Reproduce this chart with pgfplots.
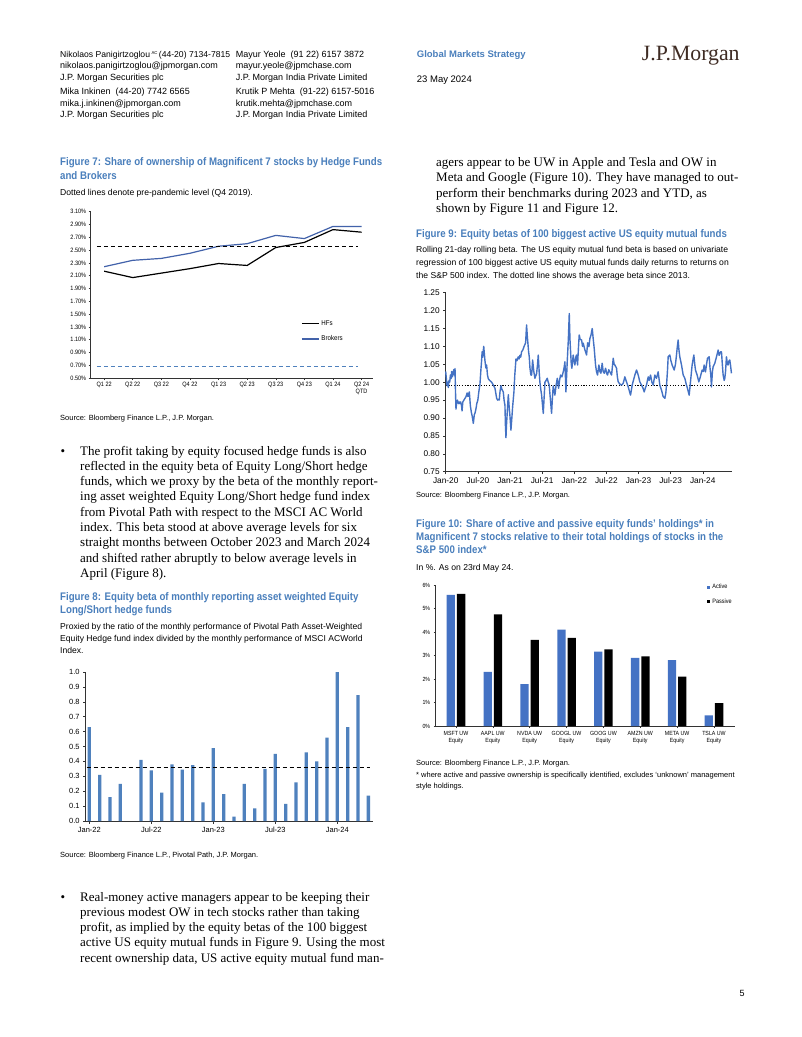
\documentclass[border=0pt]{standalone}
\usepackage{fontspec}
\setmainfont{Liberation Sans}
\newfontfamily\serif{Liberation Serif}
\newfontfamily\narrow[FakeStretch=0.88]{Liberation Sans}
\usepackage{pgfplots}
\pgfplotsset{compat=1.18}
\definecolor{jpblue}{RGB}{74,127,188}
\definecolor{barblue}{RGB}{79,129,189}
\definecolor{lineblue}{RGB}{68,114,196}
\definecolor{brokblue}{RGB}{66,98,170}
\definecolor{logo}{RGB}{62,43,35}
\newcommand{\fs}[1]{\fontsize{#1}{#1}\selectfont}
\newcommand{\txt}[3]{\node[anchor=base west,inner sep=0pt] at (#1pt,-#2pt) {#3};}
\newcommand{\body}{\serif\fontsize{13}{15}\selectfont}
\newcommand{\ftitle}{\narrow\bfseries\fontsize{11}{12}\selectfont\color{jpblue}}
\newcommand{\fsub}{\fontsize{8.6}{10}\selectfont}
\newcommand{\fsrc}{\fontsize{7.5}{8}\selectfont}
\pgfplotsset{jp/.style={scale only axis, anchor=south west, axis x line*=bottom, axis y line*=left,
  axis line style={-, black!80, line width=0.6pt}, tick style={black!80, line width=0.5pt},
  tick align=outside, major tick length=2.5pt, /pgf/number format/assume math mode=true, clip=false}}
\begin{document}
\begin{tikzpicture}
\path[use as bounding box] (0pt,0pt) rectangle (802pt,-1037pt);
\fill[white] (0pt,0pt) rectangle (802pt,-1037pt);
% ---------------- header ----------------
\txt{60}{57}{\fs{8.6}Nikolaos Panigirtzoglou\,\raisebox{3pt}{\fs{4.3}AC}\,(44-20) 7134-7815}
\txt{60}{68.5}{\fs{9}nikolaos.panigirtzoglou@jpmorgan.com}
\txt{60}{80}{\fs{9}J.P. Morgan Securities plc}
\txt{60}{94.5}{\fs{9}Mika Inkinen\ \ (44-20) 7742 6565}
\txt{60}{106}{\fs{9}mika.j.inkinen@jpmorgan.com}
\txt{60}{117.5}{\fs{9}J.P. Morgan Securities plc}
\txt{235.7}{57}{\fs{9}Mayur Yeole\ \ (91 22) 6157 3872}
\txt{235.7}{68.5}{\fs{9}mayur.yeole@jpmchase.com}
\txt{235.7}{80}{\fs{9}J.P. Morgan India Private Limited}
\txt{235.7}{94.5}{\fs{9}Krutik P Mehta\ \ (91-22) 6157-5016}
\txt{235.7}{106}{\fs{9}krutik.mehta@jpmchase.com}
\txt{235.7}{117.5}{\fs{9}J.P. Morgan India Private Limited}
\txt{416.7}{57.3}{\fs{9.5}\bfseries\color{jpblue}Global Markets Strategy}
\txt{416.7}{82.6}{\fs{9.5}23 May 2024}
\txt{641.7}{60.7}{\serif\fs{21.8}\color{logo}J.P.Morgan}
% ---------------- left column texts ----------------
\txt{60}{165.5}{\ftitle Figure 7: Share of ownership of Magnificent 7 stocks by Hedge Funds}
\txt{60}{179.5}{\ftitle and Brokers}
\txt{60}{195.5}{\fsub Dotted lines denote pre-pandemic level (Q4 2019).}
\txt{60}{420.4}{\fsrc Source: Bloomberg Finance L.P., J.P. Morgan.}
\txt{60.5}{455}{\body\textbullet}
\txt{80}{455}{\body The profit taking by equity focused hedge funds is also}
\txt{80}{470.3}{\body reflected in the equity beta of Equity Long/Short hedge}
\txt{80}{485.6}{\body funds, which we proxy by the beta of the monthly report-}
\txt{80}{500.9}{\body ing asset weighted Equity Long/Short hedge fund index}
\txt{80}{516.2}{\body from Pivotal Path with respect to the MSCI AC World}
\txt{80}{531.5}{\body index. This beta stood at above average levels for six}
\txt{80}{546.8}{\body straight months between October 2023 and March 2024}
\txt{80}{562.1}{\body and shifted rather abruptly to below average levels in}
\txt{80}{577.4}{\body April (Figure 8).}
\txt{60}{600.5}{\ftitle Figure 8: Equity beta of monthly reporting asset weighted Equity}
\txt{60}{613.8}{\ftitle Long/Short hedge funds}
\txt{60}{629.5}{\fsub Proxied by the ratio of the monthly performance of Pivotal Path Asset-Weighted}
\txt{60}{641.3}{\fsub Equity Hedge fund index divided by the monthly performance of MSCI ACWorld}
\txt{60}{653.5}{\fsub Index.}
\txt{60}{857.4}{\fsrc Source: Bloomberg Finance L.P., Pivotal Path, J.P. Morgan.}
\txt{60.5}{901}{\body\textbullet}
\txt{80}{901}{\body Real-money active managers appear to be keeping their}
\txt{80}{916.3}{\body previous modest OW in tech stocks rather than taking}
\txt{80}{931.6}{\body profit, as implied by the equity betas of the 100 biggest}
\txt{80}{946.9}{\body active US equity mutual funds in Figure 9. Using the most}
\txt{80}{962.2}{\body recent ownership data, US active equity mutual fund man-}
% ---------------- right column texts ----------------
\txt{436}{166}{\body agers appear to be UW in Apple and Tesla and OW in}
\txt{436}{181.5}{\body Meta and Google (Figure 10). They have managed to out-}
\txt{436}{197}{\body perform their benchmarks during 2023 and YTD, as}
\txt{436}{212.5}{\body shown by Figure 11 and Figure 12.}
\txt{416}{237.8}{\ftitle Figure 9: Equity betas of 100 biggest active US equity mutual funds}
\txt{416}{252.8}{\fsub Rolling 21-day rolling beta. The US equity mutual fund beta is based on univariate}
\txt{416}{265.5}{\fsub regression of 100 biggest active US equity mutual funds daily returns to returns on}
\txt{416}{278.1}{\fsub the S\&P 500 index. The dotted line shows the average beta since 2013.}
\txt{416}{497.4}{\fsrc Source: Bloomberg Finance L.P., J.P. Morgan.}
\txt{416}{527}{\ftitle Figure 10: Share of active and passive equity funds’ holdings* in}
\txt{416}{540.4}{\ftitle Magnificent 7 stocks relative to their total holdings of stocks in the}
\txt{416}{553.8}{\ftitle S\&P 500 index*}
\txt{416}{570.1}{\fsub In \%. As on 23rd May 24.}
\txt{416}{765.7}{\fsrc Source: Bloomberg Finance L.P., J.P. Morgan.}
\txt{416}{777.6}{\fsrc * where active and passive ownership is specifically identified, excludes ‘unknown’ management}
\txt{416}{788.2}{\fsrc style holdings.}
\txt{739.5}{996}{\fs{9}5}
% ---------------- Figure 7 ----------------
\begin{axis}[jp, at={(90.7pt,-378pt)}, width=282.3pt, height=166.3pt,
  xmin=-0.47, xmax=9.4, ymin=0.5, ymax=3.1,
  ytick={0.5,0.7,0.9,1.1,1.3,1.5,1.7,1.9,2.1,2.3,2.5,2.7,2.9,3.1},
  yticklabel={\pgfmathprintnumber[fixed,fixed zerofill,precision=2]{\tick}\%},
  xtick={0,...,9},
  xticklabels={Q1 22,Q2 22,Q3 22,Q4 22,Q1 23,Q2 23,Q3 23,Q4 23,Q1 24,{Q2 24\\QTD}},
  xticklabel style={align=center, font=\narrow\fontsize{6.3}{6.8}\selectfont, yshift=1pt},
  yticklabel style={font=\narrow\fs{6.3}, xshift=1pt},
  major tick length=2pt,
  legend style={draw=none, fill=none, at={(0.745,0.36)}, anchor=north west,
    font=\narrow\fs{7}, row sep=5pt, inner sep=0pt},
  legend cell align=left,
  legend image code/.code={\draw[#1] (0pt,0pt) -- (17pt,0pt);}]
\addplot[black, line width=1.2pt] coordinates {(0,2.17)(1,2.07)(2,2.14)(3,2.21)(4,2.29)(5,2.26)(6,2.54)(7,2.62)(8,2.82)(9,2.78)};
\addlegendentry{HFs}
\addplot[brokblue, line width=1.2pt] coordinates {(0,2.24)(1,2.34)(2,2.37)(3,2.45)(4,2.56)(5,2.60)(6,2.73)(7,2.68)(8,2.87)(9,2.87)};
\addlegendentry{Brokers}
\addplot[black, line width=1.1pt, dash pattern=on 4pt off 3pt, forget plot] coordinates {(-0.25,2.56)(8.87,2.56)};
\addplot[barblue, line width=1.1pt, dash pattern=on 4pt off 3pt, forget plot] coordinates {(-0.25,0.68)(8.87,0.68)};
\end{axis}
% ---------------- Figure 8 ----------------
\begin{axis}[jp, at={(85.7pt,-821pt)}, width=287.3pt, height=149pt,
  xmin=-0.35, xmax=27.45, ymin=0, ymax=1.0,
  ytick={0,0.1,0.2,0.3,0.4,0.5,0.6,0.7,0.8,0.9,1.0},
  yticklabel={\pgfmathprintnumber[fixed,fixed zerofill,precision=1]{\tick}},
  xtick={0,6,12,18,24}, xticklabels={Jan-22,Jul-22,Jan-23,Jul-23,Jan-24},
  ticklabel style={font=\fs{7.5}}]
\addplot[ybar, bar width=3.3pt, fill=barblue, draw=none] coordinates {
(0,0.63)(1,0.31)(2,0.16)(3,0.25)(5,0.41)(6,0.34)(7,0.19)(8,0.38)(9,0.345)(10,0.375)(11,0.125)
(12,0.49)(13,0.18)(14,0.03)(15,0.25)(16,0.085)(17,0.35)(18,0.45)(19,0.115)(20,0.26)(21,0.46)
(22,0.40)(23,0.56)(24,1.00)(25,0.63)(26,0.845)(27,0.17)};
\addplot[black, line width=1.1pt, dash pattern=on 4pt off 3pt] coordinates {(-0.25,0.36)(27.17,0.36)};
\end{axis}
% ---------------- Figure 9 ----------------
\begin{axis}[jp, at={(445.7pt,-471.7pt)}, width=286pt, height=179pt,
  xmin=0, xmax=53.4, ymin=0.75, ymax=1.25,
  ytick={0.75,0.80,0.85,0.90,0.95,1.00,1.05,1.10,1.15,1.20,1.25},
  yticklabel={\pgfmathprintnumber[fixed,fixed zerofill,precision=2]{\tick}},
  xtick={0,6,12,18,24,30,36,42,48},
  xticklabels={Jan-20,Jul-20,Jan-21,Jul-21,Jan-22,Jul-22,Jan-23,Jul-23,Jan-24},
  ticklabel style={font=\fs{8.3}}]
\addplot[black, line width=0.9pt, dash pattern=on 1.2pt off 1.5pt] coordinates {(0,0.99)(53.35,0.99)};
\addplot[lineblue, line width=1.4pt, line join=round] table {
0.00 1.030
0.12 1.010
0.25 0.990
0.37 1.000
0.50 0.985
0.62 1.005
0.75 1.000
0.87 1.020
1.00 1.010
1.12 1.030
1.25 1.015
1.37 1.025
1.50 1.035
1.62 1.020
1.74 1.038
1.85 0.960
1.92 0.925
2.05 0.945
2.20 0.950
2.35 0.940
2.50 0.945
2.65 0.940
2.80 0.945
2.95 0.935
3.05 0.920
3.20 0.945
3.40 0.950
3.60 0.955
3.80 0.960
4.00 0.970
4.15 0.960
4.41 0.973
4.60 0.935
4.80 0.915
4.95 0.905
5.16 0.885
5.35 0.910
5.50 0.915
5.70 0.930
5.80 0.940
6.00 0.950
6.20 0.975
6.40 0.995
6.55 1.030
6.70 1.060
6.80 1.085
6.90 1.070
7.10 1.100
7.33 1.060
7.50 1.040
7.64 1.048
7.80 1.020
7.95 1.010
8.20 1.005
8.58 1.000
8.89 0.992
9.20 0.983
9.35 0.970
9.51 0.955
9.70 0.950
9.82 0.952
10.00 0.950
10.15 0.975
10.32 0.990
10.50 0.980
10.75 0.973
10.90 0.950
11.06 0.936
11.15 0.880
11.25 0.845
11.35 0.880
11.50 0.918
11.69 0.965
11.85 0.930
12.00 0.905
12.18 0.866
12.35 0.900
12.49 0.930
12.74 0.973
12.90 1.020
13.12 1.065
13.30 1.060
13.55 1.071
13.70 1.065
13.86 1.075
14.00 1.070
14.17 1.085
14.40 1.090
14.61 1.099
14.92 1.110
15.10 1.160
15.23 1.130
15.48 1.085
15.60 1.071
15.73 1.040
15.90 1.020
16.04 1.020
16.23 1.062
16.45 1.030
16.66 1.011
16.97 1.024
17.15 1.050
17.28 1.076
17.45 1.030
17.59 1.000
17.75 0.980
17.91 0.964
18.05 0.940
18.22 0.913
18.35 0.950
18.53 1.000
18.75 1.005
18.96 1.011
19.15 1.000
19.33 0.992
19.50 0.960
19.77 0.913
19.90 0.950
20.08 0.990
20.25 0.975
20.39 0.964
20.60 0.990
20.83 1.011
21.08 0.983
21.25 1.005
21.45 1.020
21.70 1.015
21.95 1.029
22.10 1.040
22.26 1.057
22.45 0.973
22.69 1.057
22.90 1.120
23.07 1.192
23.20 1.120
23.32 1.085
23.45 1.050
23.56 1.039
23.81 1.076
23.95 1.060
24.12 1.048
24.30 1.070
24.43 1.076
24.62 1.048
24.80 1.100
24.93 1.132
25.10 1.120
25.37 1.118
25.55 1.100
25.68 1.109
26.00 1.090
26.30 1.076
26.50 1.110
26.74 1.099
26.92 1.122
27.10 1.130
27.36 1.150
27.55 1.120
27.73 1.094
27.98 1.048
28.15 1.030
28.35 1.020
28.60 1.048
28.80 1.030
28.98 1.025
29.22 1.053
29.40 1.030
29.60 1.025
29.85 1.039
30.05 1.025
30.22 1.020
30.45 1.035
30.65 1.029
30.97 1.020
31.28 1.067
31.45 1.050
31.59 1.048
31.90 1.039
32.05 1.015
32.21 1.001
32.50 0.995
32.83 0.992
33.14 0.997
33.45 1.015
33.76 1.001
34.08 0.987
34.30 0.975
34.51 0.964
34.82 0.992
35.05 1.005
35.32 1.020
35.63 1.034
35.94 1.020
36.25 1.001
36.56 0.992
36.80 0.985
37.06 0.973
37.30 0.985
37.49 0.992
37.81 1.015
38.00 1.005
38.24 1.020
38.50 1.000
38.74 0.992
39.05 1.020
39.36 1.011
39.67 1.029
39.98 0.992
40.29 0.978
40.60 0.960
40.92 0.955
41.10 0.970
41.23 0.992
41.40 1.030
41.54 1.071
41.85 1.076
42.05 1.060
42.28 1.048
42.66 1.034
42.90 1.050
43.09 1.076
43.25 1.100
43.40 1.118
43.55 1.090
43.71 1.071
44.03 1.048
44.34 1.020
44.65 1.011
44.90 0.995
45.14 0.983
45.46 0.964
45.77 1.011
46.01 1.048
46.33 1.076
46.50 1.050
46.64 1.034
46.95 1.020
47.26 1.001
47.45 1.010
47.63 1.020
47.88 1.034
48.10 1.030
48.25 1.048
48.50 1.029
48.70 1.050
48.88 1.067
49.19 1.071
49.35 1.040
49.50 1.020
49.62 0.987
49.80 1.030
49.93 1.043
50.24 1.053
50.56 1.071
50.87 1.090
51.05 1.075
51.18 1.081
51.35 1.085
51.49 1.085
51.65 1.050
51.80 1.020
52.00 1.005
52.11 1.011
52.25 1.030
52.42 1.071
52.60 1.050
52.73 1.048
52.90 1.060
53.04 1.062
53.20 1.045
53.35 1.025
};
\end{axis}
% ---------------- Figure 10 ----------------
\begin{axis}[jp, at={(435.7pt,-726pt)}, width=299.3pt, height=141pt,
  ybar=2pt, bar width=8.3pt,
  xmin=-0.55, xmax=7.57, ymin=0, ymax=6,
  ytick={0,1,2,3,4,5,6},
  yticklabel={\pgfmathprintnumber{\tick}\%},
  xtick={0,...,7},
  xticklabels={{MSFT UW\\Equity},{AAPL UW\\Equity},{NVDA UW\\Equity},{GOOGL UW\\Equity},{GOOG UW\\Equity},{AMZN UW\\Equity},{META UW\\Equity},{TSLA UW\\Equity}},
  xticklabel style={align=center, font=\narrow\fontsize{6}{7}\selectfont},
  yticklabel style={font=\narrow\fs{6}},
  major tick length=2pt,
  legend style={draw=none, fill=none, at={(0.905,1.02)}, anchor=north west,
    font=\narrow\fs{6.3}, row sep=4pt, inner sep=0pt},
  legend cell align=left,
  legend image code/.code={\fill[#1] (0pt,-1.8pt) rectangle (3.6pt,1.8pt);}]
\addplot[fill=lineblue, draw=none] coordinates {(0,5.58)(1,2.30)(2,1.78)(3,4.10)(4,3.17)(5,2.90)(6,2.80)(7,0.45)};
\addlegendentry{Active}
\addplot[fill=black, draw=none] coordinates {(0,5.62)(1,4.75)(2,3.67)(3,3.75)(4,3.26)(5,2.96)(6,2.10)(7,0.97)};
\addlegendentry{Passive}
\end{axis}
\end{tikzpicture}
\end{document}
